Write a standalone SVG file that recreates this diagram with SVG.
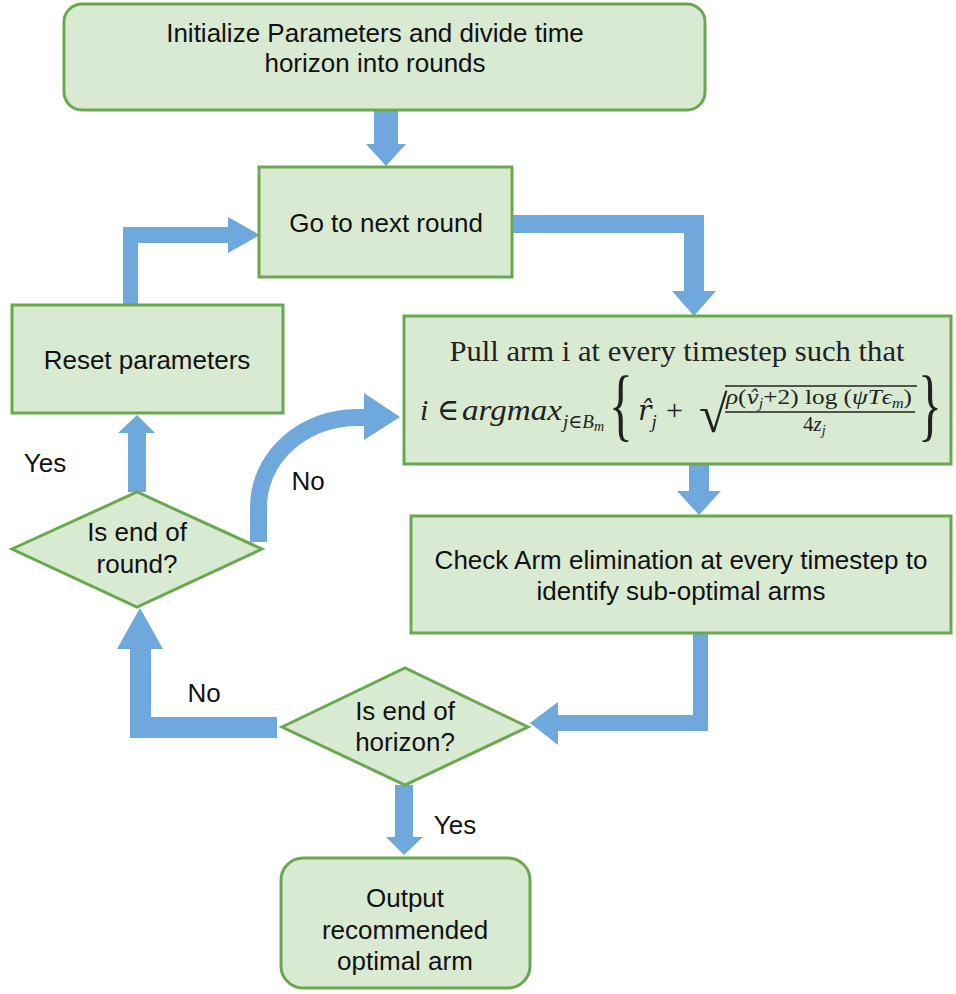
<svg xmlns="http://www.w3.org/2000/svg" width="956" height="994" viewBox="0 0 956 994">
<style>
.box{fill:#d9ead3;stroke:#6aa84f;stroke-width:3}
.arr{fill:#6fa8dc}
.arc{fill:none;stroke:#6fa8dc;stroke-width:17}
.t{font-family:"Liberation Sans",Arial,sans-serif;font-size:26px;fill:#111;text-anchor:middle}
.s{font-family:"Liberation Serif","DejaVu Serif",serif;fill:#222}
.d{font-family:"DejaVu Serif","Liberation Serif",serif}
.i{font-style:italic}
.rule{stroke:#222;stroke-width:1.3}
</style>
<rect width="956" height="994" fill="#ffffff"/>
<g id="connectors">
  <polygon class="arr" points="374,111 398,111 398,144 406,144 386,166 366,144 374,144"/>
  <polygon class="arr" points="512,215 704,215 704,291 716,291 694,316 672,291 684,291 684,233 512,233"/>
  <polygon class="arr" points="689,464 709,464 709,491 721,491 699,515 677,491 689,491"/>
  <polygon class="arr" points="693,633 708,633 708,731 558,731 558,745 530,723 558,702 558,715 693,715"/>
  <polygon class="arr" points="395,785 413,785 413,837 423,837 404,855 386,837 395,837"/>
  <polygon class="arr" points="277,717 277,738 130,738 130,649 117,649 140,608 163,649 151,649 151,717"/>
  <polygon class="arr" points="128,492 146,492 146,433 155,433 137,415 118,433 128,433"/>
  <polygon class="arr" points="123,305 138,305 138,243 228,243 228,253 260,235 228,217 228,227 123,227"/>
  <path class="arc" d="M258.5 542 L258.5 507 A98.5 89.5 0 0 1 357 417.5 L366 417.5"/>
  <polygon class="arr" points="364,393 400,417 364,440"/>
  <text class="t" x="45" y="472">Yes</text>
  <text class="t" x="308" y="490">No</text>
  <text class="t" x="204" y="702">No</text>
  <text class="t" x="455" y="834">Yes</text>
</g>
<g id="n-init">
  <rect class="box" x="64" y="4" width="641" height="106" rx="18"/>
  <text class="t" x="375" y="42">Initialize Parameters and divide time</text>
  <text class="t" x="375" y="72">horizon into rounds</text>
</g>
<g id="n-next">
  <rect class="box" x="259" y="167" width="253" height="110"/>
  <text class="t" x="386" y="232">Go to next round</text>
</g>
<g id="n-reset">
  <rect class="box" x="12" y="305" width="271" height="108"/>
  <text class="t" x="147" y="369">Reset parameters</text>
</g>
<g id="n-pull">
  <rect class="box" x="404" y="316" width="547" height="148"/>
  <text class="s" x="677" y="361" font-size="29" text-anchor="middle" textLength="455" lengthAdjust="spacingAndGlyphs">Pull arm i at every timestep such that</text>
  <text class="s" y="420" font-size="30"><tspan class="i" x="420">i</tspan><tspan x="437">∈</tspan><tspan class="i" x="462" textLength="100" lengthAdjust="spacingAndGlyphs">argmax</tspan></text>
  <text class="s i" x="563" y="428" font-size="19">j<tspan font-style="normal">∈</tspan>B<tspan font-size="14" dy="3">m</tspan></text>
  <text class="s" transform="translate(609,431) scale(0.62,1)" font-size="80">{</text>
  <text class="s" x="638" y="420" font-size="28"><tspan class="d i">r̂</tspan><tspan class="i" font-size="19" dy="8">j</tspan><tspan x="666" dy="-8" font-size="30">+</tspan></text>
  <text class="s" x="699" y="432" font-size="52">√</text>
  <line class="rule" x1="725" y1="386" x2="917" y2="386"/>
  <text class="s" y="404" font-size="22" textLength="186" lengthAdjust="spacingAndGlyphs"><tspan class="i" x="726">ρ</tspan><tspan>(</tspan><tspan class="d i" font-size="19">v̂</tspan><tspan class="i" font-size="14" dy="4">j</tspan><tspan dy="-4">+2) log (</tspan><tspan class="i">ψTϵ</tspan><tspan class="i" font-size="14" dy="4">m</tspan><tspan dy="-4">)</tspan></text>
  <line class="rule" x1="725" y1="412" x2="915" y2="412"/>
  <text class="s" y="431" font-size="21"><tspan x="803">4</tspan><tspan class="i">z</tspan><tspan class="i" font-size="14" dy="4">j</tspan></text>
  <text class="s" transform="translate(918,431) scale(0.62,1)" font-size="80">}</text>
</g>
<g id="n-check">
  <rect class="box" x="411" y="516" width="540" height="117"/>
  <text class="t" x="681" y="569">Check Arm elimination at every timestep to</text>
  <text class="t" x="681" y="600">identify sub-optimal arms</text>
</g>
<g id="n-round">
  <polygon class="box" points="12,549 137,492 262,549 137,607"/>
  <text class="t" x="137" y="541">Is end of</text>
  <text class="t" x="137" y="573">round?</text>
</g>
<g id="n-horizon">
  <polygon class="box" points="282,727 405,668 528,727 405,785"/>
  <text class="t" x="405" y="720">Is end of</text>
  <text class="t" x="405" y="751">horizon?</text>
</g>
<g id="n-output">
  <rect class="box" x="281" y="858" width="249" height="130" rx="22"/>
  <text class="t" x="405" y="907">Output</text>
  <text class="t" x="405" y="939">recommended</text>
  <text class="t" x="405" y="970">optimal arm</text>
</g>
</svg>
